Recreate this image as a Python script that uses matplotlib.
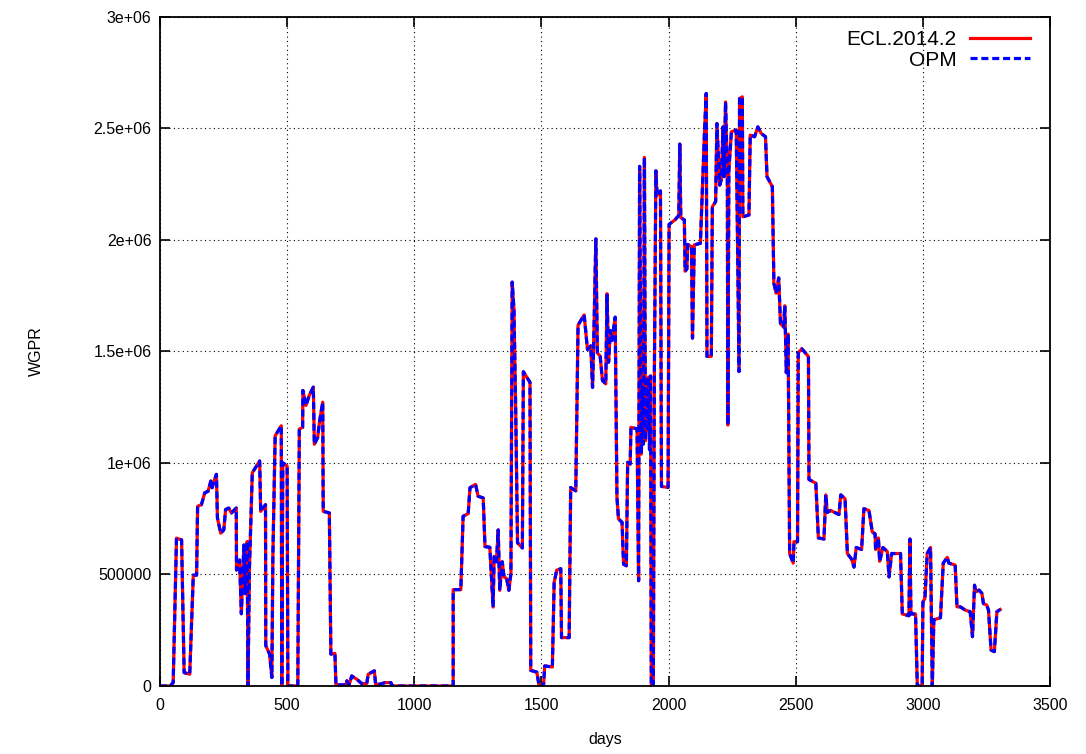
import matplotlib
matplotlib.use("Agg")
import matplotlib.pyplot as plt

plt.rcParams['font.family'] = ['Liberation Sans', 'DejaVu Sans']

# WGPR summary vector (days, rate)
days = [0, 39, 52, 65, 85, 95, 117, 131, 144, 148, 163, 176, 189, 200, 205, 213, 222,
        226, 239, 251, 258, 270, 281, 300, 301, 313, 320, 330, 336, 343, 346, 352, 363,
        392, 396, 415, 416, 431, 440, 444, 453, 477, 479, 483, 500, 503, 542, 548, 561,
        562, 574, 587, 603, 607, 620, 627, 640, 642, 666, 672, 688, 692, 731, 735, 744,
        754, 774, 793, 813, 819, 843, 848, 865, 885, 908, 914, 1153, 1153, 1183, 1192,
        1212, 1219, 1241, 1251, 1271, 1278, 1297, 1310, 1314, 1323, 1330, 1336, 1346,
        1353, 1363, 1372, 1380, 1385, 1392, 1399, 1406, 1425, 1429, 1438, 1455, 1458,
        1482, 1491, 1508, 1513, 1543, 1550, 1560, 1576, 1579, 1609, 1615, 1635, 1644,
        1668, 1681, 1694, 1701, 1705, 1714, 1720, 1731, 1740, 1753, 1758, 1764, 1771,
        1777, 1790, 1797, 1803, 1817, 1823, 1834, 1839, 1849, 1852, 1876, 1882, 1886,
        1893, 1897, 1901, 1905, 1909, 1913, 1917, 1921, 1925, 1929, 1932, 1940, 1944,
        1950, 1955, 1968, 1972, 1998, 2002, 2025, 2040, 2044, 2048, 2062, 2065, 2072,
        2075, 2090, 2094, 2101, 2125, 2142, 2148, 2151, 2168, 2172, 2185, 2190, 2201,
        2207, 2214, 2218, 2224, 2231, 2233, 2237, 2247, 2266, 2277, 2279, 2290, 2292,
        2316, 2321, 2338, 2351, 2364, 2381, 2387, 2408, 2414, 2423, 2433, 2440, 2452,
        2457, 2463, 2470, 2476, 2490, 2493, 2507, 2510, 2524, 2550, 2552, 2579, 2589,
        2611, 2618, 2624, 2637, 2670, 2677, 2694, 2703, 2720, 2729, 2738, 2759, 2768,
        2788, 2801, 2812, 2814, 2825, 2830, 2843, 2860, 2867, 2877, 2912, 2919, 2945,
        2949, 2953, 2971, 2978, 2997, 3000, 3008, 3017, 3030, 3037, 3043, 3069, 3080,
        3096, 3102, 3127, 3134, 3147, 3167, 3186, 3195, 3203, 3208, 3221, 3232, 3238,
        3251, 3258, 3268, 3281, 3291, 3304]

ecl_wgpr = [0, 0, 15e3, 663e3, 655e3, 60e3, 53e3, 497e3, 497e3, 806e3, 813e3, 866e3,
            873e3, 919e3, 889e3, 919e3, 949e3, 753e3, 685e3, 700e3, 791e3, 798e3, 776e3,
            798e3, 520e3, 565e3, 324e3, 632e3, 414e3, 648e3, 0, 535e3, 956e3, 1009e3,
            783e3, 813e3, 181e3, 143e3, 38e3, 587e3, 1122e3, 1167e3, 0, 1001e3, 986e3, 0,
            0, 1152e3, 1160e3, 1325e3, 1258e3, 1303e3, 1340e3, 1084e3, 1114e3, 1182e3,
            1273e3, 783e3, 776e3, 143e3, 146e3, 5e3, 5e3, 23e3, 5e3, 45e3, 30e3, 11e3,
            11e3, 53e3, 68e3, 8e3, 8e3, 15e3, 15e3, 0, 0, 432e3, 432e3, 761e3, 773e3,
            889e3, 904e3, 851e3, 843e3, 625e3, 622e3, 354e3, 580e3, 557e3, 700e3, 429e3,
            557e3, 489e3, 482e3, 429e3, 505e3, 1811e3, 1687e3, 1223e3, 642e3, 619e3,
            1409e3, 1393e3, 1362e3, 70e3, 62e3, 0, 0, 90e3, 85e3, 464e3, 519e3, 526e3,
            217e3, 217e3, 890e3, 875e3, 1618e3, 1664e3, 1509e3, 1525e3, 1339e3, 1509e3,
            2005e3, 1494e3, 1478e3, 1370e3, 1355e3, 1759e3, 1452e3, 1594e3, 1549e3,
            1654e3, 846e3, 749e3, 734e3, 546e3, 539e3, 1003e3, 995e3, 1160e3, 1153e3,
            472e3, 2330e3, 1040e3, 1340e3, 1085e3, 2370e3, 1100e3, 1370e3, 1145e3,
            1385e3, 1060e3, 1390e3, 0, 0, 1390e3, 2310e3, 2200e3, 2220e3, 895e3, 890e3,
            2070e3, 2090e3, 2110e3, 2430e3, 2100e3, 2090e3, 1860e3, 1870e3, 1980e3,
            1970e3, 1560e3, 1978e3, 1985e3, 2507e3, 2657e3, 1478e3, 1478e3, 2149e3,
            2172e3, 2522e3, 2246e3, 2269e3, 2507e3, 2284e3, 2619e3, 2299e3, 1170e3,
            2313e3, 2485e3, 2493e3, 1410e3, 2634e3, 2642e3, 2104e3, 2112e3, 2470e3,
            2463e3, 2507e3, 2478e3, 2463e3, 2284e3, 2239e3, 1806e3, 1761e3, 1830e3,
            1625e3, 1610e3, 1705e3, 1405e3, 1578e3, 594e3, 551e3, 647e3, 647e3, 1495e3,
            1512e3, 1477e3, 926e3, 909e3, 664e3, 659e3, 857e3, 778e3, 787e3, 769e3,
            857e3, 839e3, 594e3, 568e3, 533e3, 621e3, 612e3, 795e3, 787e3, 690e3, 682e3,
            612e3, 664e3, 559e3, 621e3, 603e3, 489e3, 594e3, 594e3, 323e3, 315e3, 659e3,
            323e3, 323e3, 0, 0, 376e3, 393e3, 594e3, 621e3, 0, 297e3, 306e3, 551e3,
            577e3, 551e3, 542e3, 355e3, 355e3, 340e3, 333e3, 221e3, 452e3, 422e3, 430e3,
            415e3, 370e3, 363e3, 340e3, 161e3, 154e3, 333e3, 343e3]

# OPM run overlays the reference simulator within line width
opm_wgpr = list(ecl_wgpr)

yticks = [0, 500000, 1e6, 1.5e6, 2e6, 2.5e6, 3e6]
ytick_labels = ['0', '500000', '1e+06', '1.5e+06', '2e+06', '2.5e+06', '3e+06']
xticks = [0, 500, 1000, 1500, 2000, 2500, 3000, 3500]

fig = plt.figure(figsize=(10.86, 7.54), dpi=100)
ax = fig.add_axes([0.1473, 0.0902, 0.8196, 0.8873])

ax.plot(days, ecl_wgpr, color='red', lw=2.3, label='ECL.2014.2')
ax.plot(days, opm_wgpr, color='blue', lw=2.3, dashes=(2.2, 1.2), label='OPM')

ax.set_xlim(0, 3500)
ax.set_ylim(0, 3e6)
ax.set_xticks(xticks)
ax.set_xticklabels([str(t) for t in xticks])
ax.set_yticks(yticks)
ax.set_yticklabels(ytick_labels)
ax.grid(True, color='black', linestyle=(0, (1, 3)), lw=0.8)
ax.set_axisbelow(True)
ax.tick_params(direction='in', length=7, width=1.2, top=True, right=True,
               labelsize=11.5, pad=6)
ax.tick_params(axis='x', pad=9)
for s in ax.spines.values():
    s.set_linewidth(1.3)

ax.set_xlabel('days', fontsize=11.5, labelpad=13)
ax.set_ylabel('WGPR', fontsize=11.5, labelpad=36)

ax.legend(loc='upper right', bbox_to_anchor=(0.9845, 0.99), frameon=False,
          markerfirst=False, fontsize=15, handlelength=2.9, labelspacing=0.08,
          borderaxespad=0, handletextpad=0.62, borderpad=0.3)

fig.savefig('out.png', dpi=100)
